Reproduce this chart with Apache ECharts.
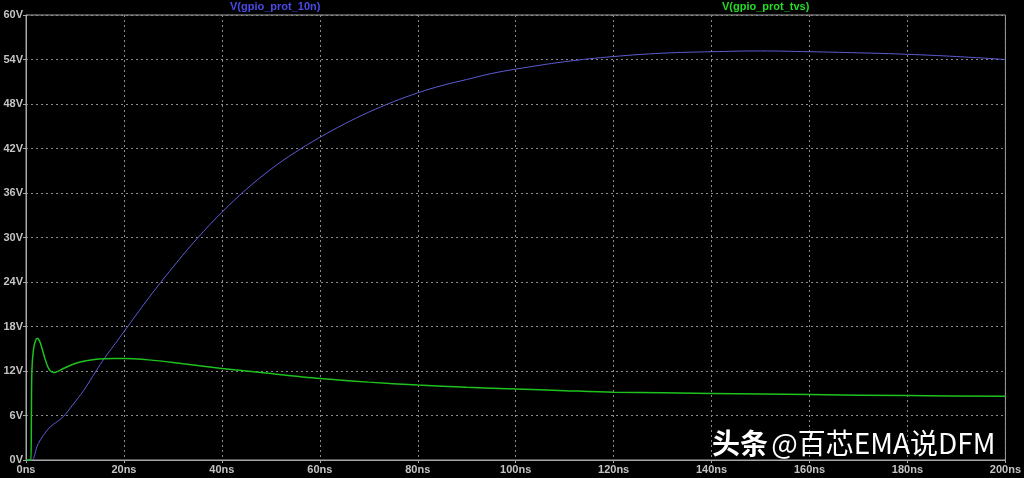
<!DOCTYPE html>
<html>
<head>
<meta charset="utf-8">
<script src="https://cdn.jsdelivr.net/npm/echarts@6/dist/echarts.min.js"></script>
<style>
html,body{margin:0;padding:0;background:#000;}
#chart{width:1024px;height:478px;}
</style>
</head>
<body>
<div id="chart"></div>
<script>
// time in ns, voltage in V
var seriesNames = ['V(gpio_prot_10n)', 'V(gpio_prot_tvs)'];
var xTicks = [0, 20, 40, 60, 80, 100, 120, 140, 160, 180, 200];
var yTicks = [0, 6, 12, 18, 24, 30, 36, 42, 48, 54, 60];

var blueT = [0, 1.1, 2.5, 4.7, 6, 7.7, 9.5, 11.8, 14.3, 16, 18, 20, 25, 30, 35, 40, 45, 50, 55, 60, 65, 70, 75, 80, 85, 90, 95, 100, 110, 120, 130, 140, 150, 160, 170, 180, 190, 200];
var blueV = [0, 0, 2.2, 4.3, 5.0, 5.9, 7.4, 9.4, 12.0, 13.7, 15.5, 17.3, 21.8, 26.0, 29.9, 33.4, 36.5, 39.2, 41.5, 43.5, 45.3, 46.9, 48.3, 49.5, 50.5, 51.3, 52.1, 52.7, 53.7, 54.4, 54.85, 55.05, 55.15, 55.05, 54.9, 54.7, 54.4, 54.0];

var greenT = [0, 1.0, 1.1, 1.2, 1.5, 1.9, 2.3, 2.8, 3.3, 3.9, 4.5, 5.0, 5.7, 6.5, 7.5, 9, 10.5, 12, 14, 16, 18, 20, 22, 25, 30, 35, 40, 50, 60, 70, 80, 90, 100, 110, 120, 140, 160, 180, 200];
var greenV = [0, 0, 6, 12, 14.8, 16.0, 16.4, 16.0, 15.0, 13.6, 12.5, 12.0, 11.8, 11.95, 12.3, 12.75, 13.1, 13.35, 13.55, 13.65, 13.7, 13.7, 13.65, 13.5, 13.15, 12.75, 12.35, 11.65, 11.0, 10.5, 10.1, 9.8, 9.57, 9.35, 9.15, 8.98, 8.82, 8.68, 8.58];

function pairs(t, v) { return t.map(function (x, i) { return [x, v[i]]; }); }

var chart = echarts.init(document.getElementById('chart'));
var font = 'Liberation Sans, Arial, sans-serif';
chart.setOption({
  backgroundColor: '#000000',
  animation: false,
  grid: { left: 26, right: 14, top: 15, bottom: 18, show: true, borderColor: '#a8a8a8', borderWidth: 1, backgroundColor: 'transparent' },
  xAxis: {
    type: 'value', min: 0, max: 200, interval: 20,
    axisLine: { show: true, lineStyle: { color: '#a8a8a8' } },
    axisTick: { show: true, length: 3, lineStyle: { color: '#a8a8a8' } },
    axisLabel: { color: '#c4c4c4', fontFamily: font, fontWeight: 'bold', fontSize: 11, margin: 4,
      formatter: function (v) { return xTicks.indexOf(v) >= 0 ? v + 'ns' : ''; } },
    splitLine: { show: true, lineStyle: { color: '#8a8a8a', type: [2, 3], width: 1 } }
  },
  yAxis: {
    type: 'value', min: 0, max: 60, interval: 6,
    axisLine: { show: true, lineStyle: { color: '#a8a8a8' } },
    axisTick: { show: true, length: 3, lineStyle: { color: '#a8a8a8' } },
    axisLabel: { color: '#c4c4c4', fontFamily: font, fontWeight: 'bold', fontSize: 11, margin: 3,
      formatter: function (v) { return yTicks.indexOf(v) >= 0 ? v + 'V' : ''; } },
    splitLine: { show: true, lineStyle: { color: '#8a8a8a', type: [2, 3], width: 1 } }
  },
  graphic: [
    { type: 'text', left: 230, top: 1, style: { text: seriesNames[0], fill: '#4a4ae8', font: 'bold 11px ' + font } },
    { type: 'text', left: 722, top: 1, style: { text: seriesNames[1], fill: '#22dd22', font: 'bold 11px ' + font } },
    { type: 'text', left: 712, top: 429, z: 100, style: {
      text: '{a|头条} {b|@百芯EMA说DFM}',
      rich: {
        a: { fill: '#ffffff', fontSize: 28, fontWeight: 'bold', fontFamily: 'Noto Sans CJK SC' },
        b: { fill: '#ffffff', fontSize: 28, fontFamily: 'Noto Sans CJK SC' }
      },
      fill: '#ffffff'
    } }
  ],
  series: [
    { name: seriesNames[0], type: 'line', showSymbol: false, smooth: 0.4,
      data: pairs(blueT, blueV), lineStyle: { color: '#5c5cd4', width: 1 }, itemStyle: { color: '#5c5cd4' } },
    { name: seriesNames[1], type: 'line', showSymbol: false, smooth: 0.3,
      data: pairs(greenT, greenV), lineStyle: { color: '#1ec21e', width: 1.5 }, itemStyle: { color: '#1ec21e' } }
  ]
});
</script>
</body>
</html>
